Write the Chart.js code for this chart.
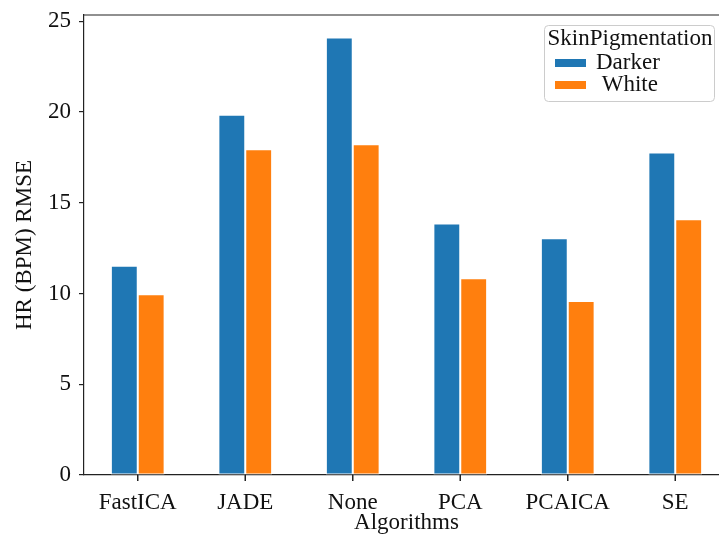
<!DOCTYPE html>
<html>
<head>
<meta charset="utf-8">
<script src="https://cdn.jsdelivr.net/npm/chart.js@4/dist/chart.umd.min.js"></script>
<style>
  html, body { margin: 0; padding: 0; overflow: hidden; background: #fff; }
  #wrap { width: 745px; height: 538px; position: relative; }
</style>
</head>
<body>
<div id="wrap"><canvas id="c"></canvas></div>
<script>
// HR RMSE per rPPG algorithm, split by skin pigmentation group
const algorithms = ['FastICA', 'JADE', 'None', 'PCA', 'PCAICA', 'SE'];
const darker = [11.53, 19.85, 24.10, 13.85, 13.04, 17.76];
const white = [9.96, 17.94, 18.22, 10.84, 9.59, 14.09];
const yTicks = [0, 5, 10, 15, 20, 25];
const seriesNames = ['Darker', ' White'];
const legendTitle = 'SkinPigmentation';
const xTitle = 'Algorithms';
const yTitle = 'HR (BPM) RMSE';

const BLUE = '#1f77b4';
const ORANGE = '#ff7f0e';
const INK = '#222222';
const FONT = "'Liberation Serif', 'Times New Roman', serif";
const FS = 23;

Chart.defaults.font.family = FONT;
Chart.defaults.font.size = FS;
Chart.defaults.color = '#111';

// top spine of the axes frame, plus outward tick marks under each category
const frame = {
  id: 'frame',
  afterDraw(chart) {
    const { ctx, chartArea } = chart;
    const xs = chart.scales.x;
    ctx.save();
    ctx.strokeStyle = INK;
    ctx.lineWidth = 1.2;
    ctx.beginPath();
    ctx.moveTo(chartArea.left, chartArea.top);
    ctx.lineTo(chartArea.right, chartArea.top);
    ctx.stroke();
    ctx.lineWidth = 1.5;
    algorithms.forEach((name, i) => {
      const px = xs.getPixelForValue(i);
      ctx.beginPath();
      ctx.moveTo(px, chartArea.bottom);
      ctx.lineTo(px, chartArea.bottom + 6);
      ctx.stroke();
    });
    ctx.restore();
  }
};

// boxed legend with a title, placed in the upper right of the plot
const boxLegend = {
  id: 'boxLegend',
  afterDraw(chart) {
    const { ctx } = chart;
    const x = 544, y = 25, w = 170, h = 76, r = 4;
    ctx.save();
    ctx.fillStyle = 'rgba(255,255,255,0.85)';
    ctx.strokeStyle = '#cccccc';
    ctx.lineWidth = 1;
    ctx.beginPath();
    ctx.roundRect(x + 0.5, y + 0.5, w, h, r);
    ctx.fill();
    ctx.stroke();

    ctx.fillStyle = '#111';
    ctx.font = FS + 'px ' + FONT;
    ctx.textBaseline = 'middle';
    ctx.textAlign = 'center';
    ctx.fillText(legendTitle, x + w / 2 + 1, y + 14);

    ctx.textAlign = 'left';
    chart.data.datasets.forEach((ds, i) => {
      const cy = y + 38 + i * 22;
      ctx.fillStyle = ds.backgroundColor;
      ctx.fillRect(x + 11, cy - 4, 31, 8);
      ctx.fillStyle = '#111';
      ctx.fillText(ds.label, x + 52, cy);
    });
    ctx.restore();
  }
};

new Chart(document.getElementById('c'), {
  type: 'bar',
  data: {
    labels: algorithms,
    datasets: [
      { label: seriesNames[0], data: darker, backgroundColor: BLUE },
      { label: seriesNames[1], data: white, backgroundColor: ORANGE }
    ]
  },
  options: {
    responsive: true,
    maintainAspectRatio: false,
    animation: false,
    devicePixelRatio: 1,
    layout: { padding: { top: 15, right: 16, left: 0, bottom: 0 } },
    datasets: {
      bar: {
        categoryPercentage: 0.5,
        barPercentage: 1.0,
        borderColor: '#ffffff',
        borderWidth: 1,
        borderSkipped: false
      }
    },
    plugins: {
      legend: { display: false },
      tooltip: { enabled: false }
    },
    scales: {
      x: {
        grid: { display: false },
        border: { display: true, color: INK, width: 1.2 },
        ticks: { padding: 6, color: '#111', font: { size: FS } },
        title: { display: true, text: xTitle, color: '#111', font: { size: FS }, padding: { top: 0, bottom: 1 } },
        afterFit(scale) { scale.height = 63; scale.paddingLeft = 0; scale.paddingRight = 0; }
      },
      y: {
        min: 0,
        max: 25.34,
        grid: { display: true, drawOnChartArea: false, drawTicks: true, tickLength: 5, color: INK, lineWidth: 1.2 },
        border: { display: true, color: INK, width: 1.2 },
        ticks: { padding: 8, color: '#111', font: { size: FS } },
        afterBuildTicks(scale) { scale.ticks = yTicks.map(v => ({ value: v })); },
        title: { display: true, text: yTitle, color: '#111', font: { size: FS }, padding: { top: 11, bottom: 0 } },
        afterFit(scale) { scale.width = 84; scale.paddingTop = 0; scale.paddingBottom = 0; }
      }
    }
  },
  plugins: [frame, boxLegend]
});
</script>
</body>
</html>
